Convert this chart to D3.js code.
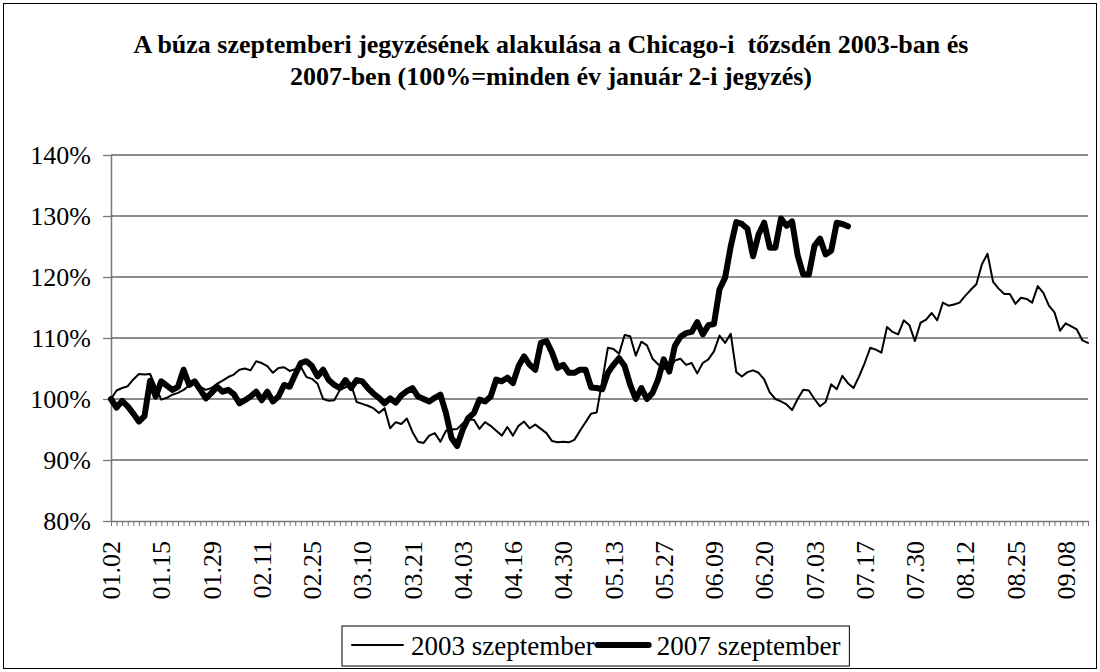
<!DOCTYPE html>
<html><head><meta charset="utf-8">
<script src="https://cdn.jsdelivr.net/npm/d3@7/dist/d3.min.js"></script>
<style>
body{margin:0;background:#fff}
svg{display:block}
text{font-family:"Liberation Serif","Times New Roman",serif;fill:#000}
</style>
</head><body>
<svg id="c" width="1100" height="672"></svg>
<script>
const categories = [
"01.02","01.03","01.06","01.07","01.08","01.09","01.10","01.13","01.14","01.15","01.16","01.17","01.21","01.22","01.23","01.24","01.27","01.28","01.29","01.30","01.31",
"02.03","02.04","02.05","02.06","02.07","02.10","02.11","02.12","02.13","02.14","02.18","02.19","02.20","02.21","02.24","02.25","02.26","02.27","02.28",
"03.03","03.04","03.05","03.06","03.07","03.10","03.11","03.12","03.13","03.14","03.17","03.18","03.19","03.20","03.21","03.24","03.25","03.26","03.27","03.28","03.31",
"04.01","04.02","04.03","04.04","04.07","04.08","04.09","04.10","04.11","04.14","04.15","04.16","04.17","04.21","04.22","04.23","04.24","04.25","04.28","04.29","04.30",
"05.01","05.02","05.05","05.06","05.07","05.08","05.09","05.12","05.13","05.14","05.15","05.16","05.19","05.20","05.21","05.22","05.23","05.27","05.28","05.29","05.30",
"06.02","06.03","06.04","06.05","06.06","06.09","06.10","06.11","06.12","06.13","06.16","06.17","06.18","06.19","06.20","06.23","06.24","06.25","06.26","06.27","06.30",
"07.01","07.02","07.03","07.07","07.08","07.09","07.10","07.11","07.14","07.15","07.16","07.17","07.18","07.21","07.22","07.23","07.24","07.25","07.28","07.29","07.30","07.31",
"08.01","08.04","08.05","08.06","08.07","08.08","08.11","08.12","08.13","08.14","08.15","08.18","08.19","08.20","08.21","08.22","08.25","08.26","08.27","08.28","08.29",
"09.02","09.03","09.04","09.05","09.08","09.09","09.10","09.11","09.12"
];
const labelEvery = 9;

const series2003 = [
100.0,101.4,101.8,102.1,103.2,104.1,104.0,104.1,102.0,99.9,
100.2,100.7,101.0,101.5,102.2,102.5,102.0,101.5,101.8,102.5,
103.0,103.6,104.0,104.8,105.0,104.7,106.2,105.9,105.4,104.3,
105.1,105.2,104.6,104.9,105.3,103.6,103.3,102.5,100.0,99.7,
99.8,101.5,101.9,102.4,99.5,99.2,98.9,98.5,97.7,98.5,
95.2,96.2,95.9,96.8,94.6,93.0,92.8,94.0,94.4,93.0,
94.8,95.0,95.1,96.0,96.6,96.6,95.1,96.2,95.6,94.8,
94.0,95.4,94.0,95.6,96.3,95.2,95.8,95.1,94.4,93.1,
92.9,93.0,92.9,93.3,94.8,96.2,97.6,97.8,103.0,108.4,
108.2,107.4,110.5,110.3,107.1,109.4,108.8,106.6,105.7,105.0,
104.8,106.3,106.6,105.6,105.9,104.2,105.9,106.5,107.8,110.4,
109.2,110.7,104.4,103.7,104.4,104.7,104.3,103.2,101.1,100.0,
99.6,99.1,98.2,100.0,101.5,101.4,100.0,98.8,99.5,102.4,
101.6,103.8,102.6,101.8,103.7,105.9,108.4,108.1,107.6,111.8,
111.0,110.6,112.9,112.1,109.5,112.5,113.0,114.1,112.9,115.8,
115.3,115.5,115.8,116.9,117.9,118.8,122.1,123.8,119.2,118.1,
117.2,117.2,115.6,116.6,116.4,115.8,118.5,117.4,115.3,114.2,
111.2,112.4,111.9,111.4,109.6,109.2
];

const series2007 = [
100.0,98.6,99.7,98.8,97.6,96.3,97.2,103.0,100.4,102.9,
102.2,101.5,102.0,104.8,102.3,102.9,101.5,100.1,101.0,102.0,
101.2,101.5,100.8,99.3,99.8,100.4,101.2,99.8,101.2,99.6,
100.4,102.3,102.0,104.0,105.9,106.2,105.4,103.7,104.8,103.1,
102.3,101.8,103.1,101.8,103.1,102.9,101.8,100.9,100.2,99.3,
100.1,99.4,100.6,101.3,101.8,100.4,100.0,99.6,100.2,100.7,
97.7,93.6,92.3,95.0,96.9,97.7,99.9,99.6,100.4,103.2,
102.9,103.5,102.6,105.4,107.0,105.6,104.8,109.2,109.5,107.6,
105.1,105.6,104.3,104.3,104.8,104.8,101.9,101.8,101.6,104.3,
105.6,106.7,105.4,102.3,100.0,101.8,100.0,101.0,103.2,106.5,
104.5,108.7,110.2,110.8,111.0,112.6,110.6,112.1,112.3,118.0,
119.9,125.0,129.0,128.7,127.9,123.4,127.0,128.9,124.8,124.8,
129.6,128.4,129.1,123.5,120.4,120.4,125.1,126.3,123.7,124.3,
128.9,128.7,128.3
];

const yTicks = [80, 90, 100, 110, 120, 130, 140];
const seriesNames = ["2003 szeptember", "2007 szeptember"];
const seriesWidths = [2, 6];
const titleLines = [
  "A búza szeptemberi jegyzésének alakulása a Chicago-i  tőzsdén 2003-ban és",
  "2007-ben (100%=minden év január 2-i jegyzés)"
];

const W = 1100, H = 672;
const m = {left: 111, right: 1088, top: 155, bottom: 521};
const svg = d3.select("#c");

svg.append("rect").attr("x", 3.5).attr("y", 3.5).attr("width", W - 7).attr("height", H - 7)
  .attr("fill", "#fff").attr("stroke", "#000").attr("stroke-width", 1);

const x = d3.scalePoint().domain(categories).range([m.left, m.right]);
const y = d3.scaleLinear().domain([80, 140]).range([m.bottom, m.top]);

// title
svg.append("g").selectAll("text").data(titleLines).join("text")
  .attr("x", 551).attr("y", (d, i) => 53 + i * 32)
  .attr("text-anchor", "middle").attr("font-size", 26).attr("font-weight", "bold")
  .style("white-space", "pre").attr("xml:space", "preserve")
  .text(d => d);

// gridlines
svg.append("g").selectAll("line").data(yTicks.filter(v => v > 80)).join("line")
  .attr("x1", m.left).attr("x2", m.right)
  .attr("y1", d => y(d)).attr("y2", d => y(d))
  .attr("stroke", "#666").attr("stroke-width", 1.3);

// y axis
const yAxis = svg.append("g").attr("transform", `translate(${m.left},0)`)
  .call(d3.axisLeft(y).tickValues(yTicks).tickFormat(d => d + "%").tickSize(8).tickSizeOuter(0));
yAxis.select(".domain").attr("stroke", "#777").attr("stroke-width", 1.5);
yAxis.selectAll(".tick line").attr("stroke", "#777").attr("stroke-width", 1.3);
yAxis.selectAll(".tick text").attr("font-size", 26).attr("x", -20)
  .attr("font-family", "Liberation Serif, Times New Roman, serif").attr("fill", "#000");

// x axis
const xAxis = svg.append("g").attr("transform", `translate(0,${m.bottom})`)
  .call(d3.axisBottom(x).tickValues(categories).tickFormat("").tickSize(5).tickSizeOuter(0));
xAxis.select(".domain").attr("stroke", "#777").attr("stroke-width", 1.5);
xAxis.selectAll(".tick line").attr("stroke", "#777").attr("stroke-width", 1);

svg.append("g").selectAll("text")
  .data(categories.filter((d, i) => i % labelEvery === 0)).join("text")
  .attr("transform", d => `translate(${x(d)},541) rotate(-90)`)
  .attr("text-anchor", "end").attr("dy", "0.35em").attr("font-size", 26)
  .text(d => d);

// lines
const line = d3.line().x((d, i) => x(categories[i])).y(d => y(d)).curve(d3.curveLinear);
[series2003, series2007].forEach((s, k) => {
  svg.append("path").datum(s).attr("d", line)
    .attr("fill", "none").attr("stroke", "#000")
    .attr("stroke-width", seriesWidths[k]).attr("stroke-linejoin", "round").attr("stroke-linecap", "round");
});

// legend
const lg = svg.append("g");
const box = lg.append("rect").attr("y", 626).attr("height", 40)
  .attr("fill", "#fff").attr("stroke", "#000").attr("stroke-width", 1);
let cx = 352;
seriesNames.forEach((name, k) => {
  lg.append("line").attr("x1", cx).attr("x2", cx + 51).attr("y1", 645).attr("y2", 645)
    .attr("stroke", "#000").attr("stroke-width", seriesWidths[k]).attr("stroke-linecap", "round");
  const t = lg.append("text").attr("x", cx + 59).attr("y", 655).attr("font-size", 27).text(name);
  cx = cx + 59 + t.node().getComputedTextLength() + 3;
});
box.attr("x", 342).attr("width", cx + 6 - 342);
</script>
</body></html>
